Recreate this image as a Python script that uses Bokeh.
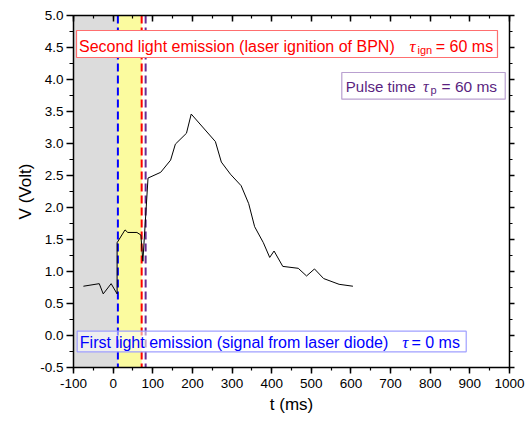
from bokeh.plotting import figure
from bokeh.models import (Range1d, LinearAxis, SingleIntervalTicker, NumeralTickFormatter,
                          CustomJSTickFormatter, BoxAnnotation, Span, Label)
from bokeh.embed import file_html
from bokeh.resources import INLINE

# ---- data ----
t_ms = [-75, -35, -25, -5, 10, 10, 30, 37, 60, 70, 75, 88, 120, 145, 157, 185, 197,
        258, 273, 296, 323, 342, 357, 379, 395, 406, 428, 467, 488, 508, 531, 570, 605]
volt = [0.77, 0.81, 0.65, 0.81, 0.65, 1.45, 1.65, 1.61, 1.61, 1.57, 1.16, 2.46, 2.55,
        2.74, 2.99, 3.16, 3.46, 3.03, 2.71, 2.52, 2.34, 2.06, 1.70, 1.45, 1.22, 1.32,
        1.08, 1.05, 0.93, 1.04, 0.89, 0.80, 0.77]
t_first = 12      # first light emission (blue)
t_second = 72     # second light emission (red)
t_pulse = 82      # pulse end (purple)
x_limits = [-100, 1000]
y_limits = [-0.5, 5.0]

FONT = "Liberation Sans"
SERIF = "Liberation Serif"
RED = "#ff0000"
BLUE = "#0000ff"
PURPLE = "#5a1f7f"

p = figure(width=528, height=423, output_backend="svg", toolbar_location=None,
           x_range=Range1d(*x_limits), y_range=Range1d(*y_limits),
           min_border_left=73, min_border_right=19, min_border_top=15, min_border_bottom=56,
           x_axis_label="t (ms)", y_axis_label="V (Volt)")
p.xgrid.visible = False
p.ygrid.visible = False
p.outline_line_color = None
p.background_fill_color = "white"

xt = SingleIntervalTicker(interval=100, num_minor_ticks=2)
yt = SingleIntervalTicker(interval=0.5, num_minor_ticks=2)

def style_axis(ax):
    ax.axis_line_width = 1.5
    ax.axis_line_color = "black"
    ax.major_tick_line_width = 1.5
    ax.minor_tick_line_width = 1.2
    ax.major_tick_line_color = "black"
    ax.minor_tick_line_color = "black"
    ax.major_label_text_font = FONT
    ax.major_label_text_font_size = "13.5px"
    ax.major_label_text_color = "black"
    ax.axis_label_text_font = FONT
    ax.axis_label_text_font_size = "17px"
    ax.axis_label_text_font_style = "normal"
    ax.axis_label_text_color = "black"

xa = p.xaxis[0]
xa.ticker = xt
xa.formatter = NumeralTickFormatter(format="0")
style_axis(xa)
xa.major_tick_out = 6; xa.major_tick_in = 0
xa.minor_tick_out = 3; xa.minor_tick_in = 0
xa.major_label_standoff = 5
xa.axis_label_standoff = 4

ya = p.yaxis[0]
ya.ticker = yt
ya.formatter = NumeralTickFormatter(format="0.0")
style_axis(ya)
ya.major_tick_out = 7; ya.major_tick_in = 0
ya.minor_tick_out = 4; ya.minor_tick_in = 0
ya.major_label_standoff = 3
ya.axis_label_standoff = 2

blank = CustomJSTickFormatter(code="return '';")

top = LinearAxis(ticker=SingleIntervalTicker(interval=100, num_minor_ticks=2), formatter=blank)
style_axis(top)
top.major_tick_in = 6; top.major_tick_out = 0
top.minor_tick_in = 3; top.minor_tick_out = 0
top.major_label_standoff = 0
p.add_layout(top, "above")

right = LinearAxis(ticker=SingleIntervalTicker(interval=0.5, num_minor_ticks=2), formatter=blank)
style_axis(right)
right.major_tick_out = 5; right.major_tick_in = 0
right.minor_tick_out = 3; right.minor_tick_in = 0
right.major_label_standoff = 0
p.add_layout(right, "right")

# shaded regions
p.add_layout(BoxAnnotation(right=t_first, fill_color="#dcdcdc", fill_alpha=1.0,
                           line_color=None, level="underlay"))
p.add_layout(BoxAnnotation(left=t_first, right=t_second, fill_color="#fbfb9f", fill_alpha=1.0,
                           line_color=None, level="underlay"))
for loc, col in [(t_first, BLUE), (t_second, RED), (t_pulse, "#6a2c91")]:
    p.add_layout(Span(location=loc, dimension="height", line_color=col, line_width=2,
                      line_dash="8 4", level="underlay"))

# signal
p.line(t_ms, volt, line_color="black", line_width=1)

# ---- text boxes ----
def box(l, r, t, b, border, alpha):
    p.add_layout(BoxAnnotation(left=l, right=r, top=t, bottom=b, fill_color="white",
                               fill_alpha=alpha, line_color=border, line_alpha=1.0,
                               line_width=1.2))

def lab(x, y, text, color, size, font=FONT, style="normal"):
    p.add_layout(Label(x=x, y=y, text=text, text_color=color, text_font=font,
                       text_font_size=size, text_font_style=style,
                       text_baseline="alphabetic", text_align="left"))

# red: second light emission
box(-92.4, 969.7, 4.766, 4.344, "#ff6f6f", 1.0)
lab(-86.1, 4.52, "Second light emission (laser ignition of BPN)", RED, "16px")
lab(747.7, 4.52, "\u03c4", RED, "17px", SERIF, "italic")
lab(768.0, 4.46, "ign", RED, "11px")
lab(814.0, 4.52, "= 60 ms", RED, "16px")

# purple: pulse time
box(576.9, 989.2, 4.109, 3.692, "#b9a0d0", 1.0)
lab(587.0, 3.885, "Pulse time", PURPLE, "15px")
lab(782.0, 3.885, "\u03c4", PURPLE, "16px", SERIF, "italic")
lab(801.0, 3.835, "p", PURPLE, "11px")
lab(828.5, 3.885, "= 60 ms", PURPLE, "15.5px")

# blue: first light emission
box(-90.7, 890.8, 0.067, -0.255, "#a0a0ff", 0.55)
lab(-84.1, -0.11, "First light emission (signal from laser diode)", BLUE, "16px")
lab(729.3, -0.11, "\u03c4", BLUE, "17px", SERIF, "italic")
lab(752.7, -0.11, "= 0 ms", BLUE, "16px")

open("out.html", "w").write(file_html(p, INLINE))
